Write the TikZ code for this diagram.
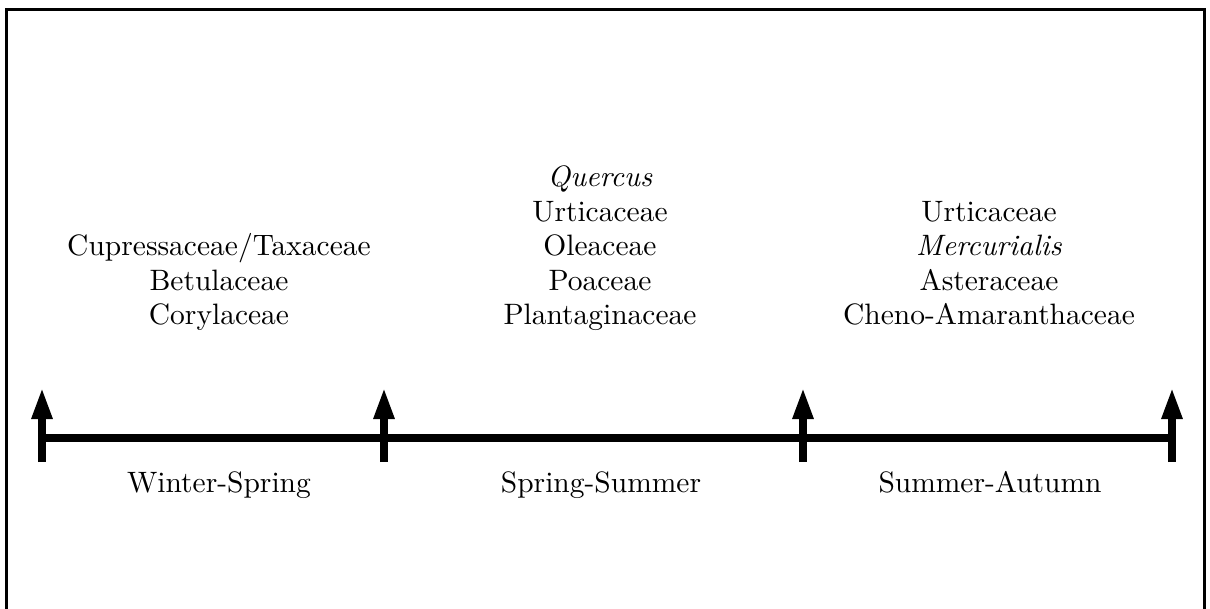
\documentclass[tikz,border=0pt]{standalone}
\usetikzlibrary{arrows.meta}
\newcommand{\bigtxt}[1]{\scalebox{2.95}{\fontsize{10}{12}\selectfont #1}}
\begin{document}
\begin{tikzpicture}[x=1pt,y=-1pt,
  frame/.style={line width=2.5pt, line cap=butt},
  axis/.style={line width=8pt},
  tick/.style={line width=8pt, -{Triangle[length=32pt,width=19pt]}},
  lbl/.style={anchor=base, inner sep=0pt}]
\useasboundingbox (0,0) rectangle (1210,609);
% frame (open at the bottom, cut by the page)
\draw[frame] (6.5,609) -- (6.5,9.5) -- (1204.5,9.5) -- (1204.5,609);
% timeline coordinates
\coordinate (t1) at (42,438);
\coordinate (t2) at (384,438);
\coordinate (t3) at (803,438);
\coordinate (t4) at (1172,438);
\foreach \t in {t1,t2,t3,t4}{
  \coordinate (\t b) at ([yshift=-24pt]\t);
  \coordinate (\t e) at ([yshift=51pt]\t);
}
\draw[axis] (t1) -- (t4);
\foreach \t in {t1,t2,t3,t4}{
  \draw[tick] (\t b) -- (\t e);
}
% taxa, column 1
\node[lbl] (a1) at (219,256)   {\bigtxt{Cupressaceae/Taxaceae}};
\node[lbl] (a2) at (219,290.5) {\bigtxt{Betulaceae}};
\node[lbl] (a3) at (219,325)   {\bigtxt{Corylaceae}};
% taxa, column 2
\node[lbl] (b1) at (600,187)   {\bigtxt{\textit{Quercus}}};
\node[lbl] (b2) at (600,221.5) {\bigtxt{Urticaceae}};
\node[lbl] (b3) at (600,256)   {\bigtxt{Oleaceae}};
\node[lbl] (b4) at (600,290.5) {\bigtxt{Poaceae}};
\node[lbl] (b5) at (600,325)   {\bigtxt{Plantaginaceae}};
% taxa, column 3
\node[lbl] (c1) at (989,221.5) {\bigtxt{Urticaceae}};
\node[lbl] (c2) at (989,256)   {\bigtxt{\textit{Mercurialis}}};
\node[lbl] (c3) at (989,290.5) {\bigtxt{Asteraceae}};
\node[lbl] (c4) at (989,325)   {\bigtxt{Cheno-Amaranthaceae}};
% seasons
\node[lbl] (s1) at (219,492) {\bigtxt{Winter-Spring}};
\node[lbl] (s2) at (601,492) {\bigtxt{Spring-Summer}};
\node[lbl] (s3) at (990,492) {\bigtxt{Summer-Autumn}};
\end{tikzpicture}
\end{document}
